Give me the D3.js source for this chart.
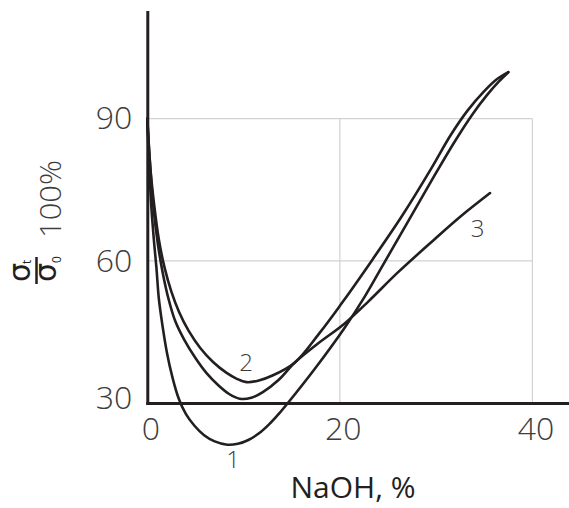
<!DOCTYPE html>
<html><head><meta charset="utf-8">
<script src="https://cdn.jsdelivr.net/npm/d3@7"></script>
<style>html,body{margin:0;padding:0;background:#fff;} svg{display:block;}</style>
</head><body><svg id="chart" width="569" height="508"></svg>
<script>
// ---- data ----
const xTicks = [0, 20, 40];
const yTicks = [30, 60, 90];
const gridXValues = [20, 40];
const gridYValues = [60, 90];
const xAxisEnd = 43.8;
const yAxisTop = 112.5;

const curve1X = [0, 0.15, 0.4, 0.7, 0.95, 1.2, 1.6, 2.05, 2.6, 3.25, 4.0, 4.9, 5.9, 7.0, 8.3, 9.4, 10.5, 11.6, 12.7, 13.7, 14.6, 17.5, 20.5, 22.6, 24.5, 27.0, 30.0, 32.0, 33.8, 35.3, 36.5, 37.5];
const curve1Y = [90, 82, 72, 64, 58.5, 52, 46, 40.5, 35.5, 31, 27.7, 25.2, 23.2, 21.9, 21.2, 21.4, 22.2, 23.6, 25.6, 27.8, 30, 37.5, 45.9, 52.5, 59.2, 68, 78.6, 85.4, 91.0, 95.0, 97.8, 99.8];

const curve2X = [0, 0.3, 0.7, 1.2, 1.8, 2.5, 3.3, 4.3, 5.5, 6.8, 8.2, 9.3, 10.3, 11.5, 13.0, 15.3, 17.9, 20.0, 23.4, 26.5, 29.5, 31.5, 33.3, 35.0, 36.3, 37.5];
const curve2Y = [90, 80, 72, 64.5, 58.5, 53.5, 49.2, 45.2, 41.6, 38.7, 36.4, 35.1, 34.4, 34.7, 35.8, 38.5, 44.8, 50.5, 60.3, 69.6, 79.5, 86.5, 91.8, 95.8, 98.3, 99.8];

const curve3X = [0, 0.3, 0.65, 1.1, 1.6, 2.2, 2.9, 3.8, 5.0, 6.2, 7.4, 8.5, 9.6, 10.8, 12.0, 13.6, 15.3, 17.5, 20.5, 23.0, 26.0, 29.7, 32.5, 35.6];
const curve3Y = [90, 80, 71, 63.5, 57.5, 52, 47.3, 43.5, 39.5, 36.2, 33.7, 31.9, 30.9, 31.1, 32.3, 34.8, 38.5, 42.2, 46.8, 51.5, 57.5, 64.3, 69.3, 74.3];

const curveLabels = ["1", "2", "3"];
const curveLabelX = [8.9, 10.25, 34.3];
const curveLabelY = [18.0, 38.6, 66.9];

const xTitle = "NaOH, %";

// ---- drawing ----
const svg = d3.select("#chart");
svg.append("rect").attr("width", 569).attr("height", 508).attr("fill", "#fff");

const x = d3.scaleLinear().domain([0, xAxisEnd]).range([147.3, 569]);
const y = d3.scaleLinear().domain([30, yAxisTop]).range([403, 12]);

const ink = "#231f20";
const gridColor = "#d2d2d2";
const tickFont = "'Open Sans', 'Liberation Sans', sans-serif";

// grid
const grid = svg.append("g");
grid.selectAll("line.h").data(gridYValues).join("line")
  .attr("x1", x(0)).attr("x2", x(40))
  .attr("y1", d => y(d)).attr("y2", d => y(d))
  .attr("stroke", gridColor).attr("stroke-width", 1.2);
grid.selectAll("line.v").data(gridXValues).join("line")
  .attr("x1", d => x(d)).attr("x2", d => x(d))
  .attr("y1", y(30)).attr("y2", y(90))
  .attr("stroke", gridColor).attr("stroke-width", 1.2);

// curves
const line = d3.line().x(d => x(d[0])).y(d => y(d[1])).curve(d3.curveCatmullRom.alpha(0.5));
const series = [
  d3.zip(curve1X, curve1Y),
  d3.zip(curve2X, curve2Y),
  d3.zip(curve3X, curve3Y)
];
svg.append("g").selectAll("path").data(series).join("path")
  .attr("d", line)
  .attr("fill", "none")
  .attr("stroke", ink)
  .attr("stroke-width", 2.6)
  .attr("stroke-linecap", "round");

// axes
const yAxis = d3.axisLeft(y).tickValues(yTicks).tickSize(0).tickPadding(15).tickFormat(d3.format("d"));
const xAxis = d3.axisBottom(x).tickValues(xTicks).tickSize(0).tickPadding(14).tickFormat(d3.format("d"));

const gy = svg.append("g").attr("transform", `translate(${x(0)},0)`).call(yAxis);
const gx = svg.append("g").attr("transform", `translate(0,${y(30)})`).call(xAxis);

[gx, gy].forEach(g => {
  g.select(".domain").attr("stroke", ink).attr("stroke-width", 3).attr("stroke-linecap", "square");
  g.selectAll(".tick text")
    .attr("font-family", tickFont)
    .attr("font-weight", 300)
    .attr("font-size", 32)
    .attr("fill", "#3d3d3d");
});
gx.selectAll(".tick text").attr("dx", 3);
// the lowest y label sits slightly above the x axis in the original
gy.selectAll(".tick text").filter(d => d === yTicks[0]).attr("dy", "0.16em");

// curve labels
svg.append("g").selectAll("text").data(curveLabels).join("text")
  .attr("x", (d, i) => x(curveLabelX[i]))
  .attr("y", (d, i) => y(curveLabelY[i]))
  .attr("dy", "0.35em")
  .attr("text-anchor", "middle")
  .attr("font-family", tickFont)
  .attr("font-weight", 300)
  .attr("font-size", 24)
  .attr("fill", "#3d3d3d")
  .text(d => d);

// x title
svg.append("text")
  .attr("x", 353).attr("y", 498)
  .attr("text-anchor", "middle")
  .attr("font-family", tickFont)
  .attr("font-size", 30)
  .attr("fill", ink)
  .text(xTitle);

// y title: sigma_t / sigma_0 100%  (rotated)
const yt = svg.append("g").attr("transform", "rotate(-90)");
const sigmaFont = "'DejaVu Sans', sans-serif";
yt.append("text").attr("x", -282).attr("y", 30)
  .attr("font-family", sigmaFont).attr("font-size", 30).attr("fill", ink).text("σ");
yt.append("text").attr("x", -264).attr("y", 31)
  .attr("font-family", tickFont).attr("font-size", 12).attr("fill", ink).text("t");
yt.append("line").attr("x1", -284).attr("x2", -257).attr("y1", 36.5).attr("y2", 36.5)
  .attr("stroke", ink).attr("stroke-width", 2.5);
yt.append("text").attr("x", -282).attr("y", 56)
  .attr("font-family", sigmaFont).attr("font-size", 30).attr("fill", ink).text("σ");
yt.append("text").attr("x", -263).attr("y", 61)
  .attr("font-family", tickFont).attr("font-size", 12).attr("fill", ink).text("0");
yt.append("text").attr("x", -238).attr("y", 61)
  .attr("font-family", tickFont).attr("font-weight", 300).attr("font-size", 29)
  .attr("textLength", 78).attr("lengthAdjust", "spacingAndGlyphs")
  .attr("fill", "#3d3d3d").text("100%");
</script>
</body></html>
